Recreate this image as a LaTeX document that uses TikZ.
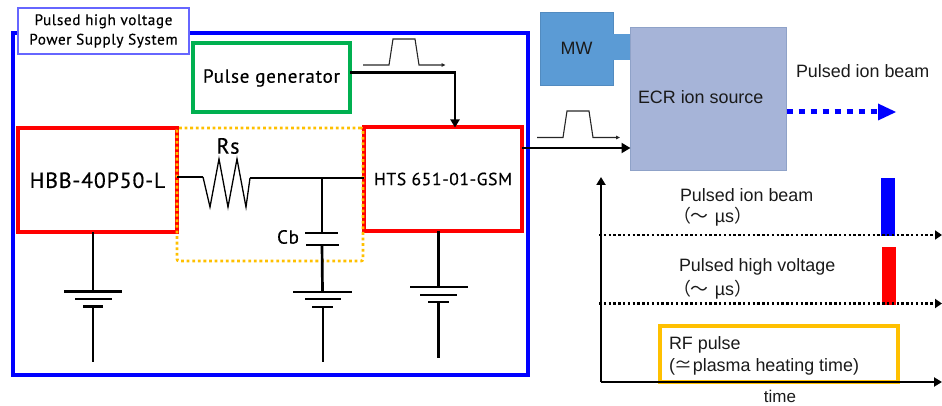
\documentclass[tikz,border=0pt]{standalone}
\usepackage{fontspec}
\setmainfont{Liberation Sans}
\newfontfamily\gothic[LetterSpace=4,FakeBold=0.5]{PT Sans}
\newfontfamily\cjkf{Noto Sans CJK JP}
\usetikzlibrary{arrows.meta}
\definecolor{psblue}{HTML}{0000FF}
\definecolor{pgreen}{HTML}{00B050}
\definecolor{pred}{HTML}{FF0000}
\definecolor{pyellow}{HTML}{FFC000}
\definecolor{mwblue}{HTML}{5B9BD5}
\definecolor{ecrfill}{HTML}{A6B4D8}
\definecolor{ecredge}{HTML}{8FA2C8}
\definecolor{inktext}{HTML}{1A1A1A}
\tikzset{
  x=1pt,y=-1pt,
  boxbase/.style={rectangle,inner sep=0pt,outer sep=0pt,align=center},
  sized/.style 2 args={minimum width=#1 pt,minimum height=#2 pt},
  redbox/.style={boxbase,draw=pred,line width=4pt},
  greenbox/.style={boxbase,draw=pgreen,line width=4pt},
  mwbox/.style={boxbase,fill=mwblue,draw=mwblue!90!black,line width=.5pt},
  ecrbox/.style={boxbase,fill=ecrfill,draw=ecredge,line width=1pt},
  gothictxt/.style={inner sep=0pt,outer sep=0pt,text=black,font=\gothic},
  sanstxt/.style={inner sep=0pt,outer sep=0pt,anchor=west,text=inktext,font=\fontsize{17.9}{20}\selectfont},
  wire/.style={draw=black,line width=2.7pt},
  thinwire/.style={draw=black,line width=1.3pt},
  plate/.style={draw=black,line width=2.6pt},
  sigarrow/.style={wire,-{Triangle[length=9pt,width=10pt]}},
  pulse/.style={draw=black!85,line width=1.1pt,-{Triangle[length=4pt,width=3.5pt]}},
  timeline/.style={draw=black,line width=2.5pt,dash pattern=on 2.4pt off 2.4pt,-{Triangle[length=7pt,width=9pt]}},
  axisline/.style={draw=black,line width=2.7pt,-{Triangle[length=8pt,width=9pt]}},
}
\begin{document}
\begin{tikzpicture}
\useasboundingbox (0,0) rectangle (942,406);
% power supply frame and label
\node[boxbase,draw=psblue,line width=4pt,sized={515}{342}] (frame) at (270.5,204) {};
\node[boxbase,draw=blue!60,fill=white,line width=1.2pt,sized={171}{46},gothictxt,font=\gothic\fontsize{15.2}{19.5}\selectfont] (label) at (103.5,31) {Pulsed high voltage\\Power Supply System};
% main boxes
\node[greenbox,sized={157}{69},gothictxt,font=\gothic\fontsize{19}{22}\selectfont] (pg) at (271.5,78) {Pulse generator};
\node[redbox,sized={159}{103.5},gothictxt,font=\gothic\fontsize{21.8}{24}\selectfont] (hbb) at (97.5,180.25) {HBB-40P50-L};
\node[redbox,sized={158}{103},gothictxt,font=\gothic\fontsize{17.5}{20}\selectfont] (hts) at (443,179) {HTS 651-01-GSM};
% yellow dotted region, over the red edges
\node[boxbase,draw=pyellow,line width=2.8pt,dash pattern=on 2.8pt off 2.8pt,rounded corners=2pt,sized={186}{133}] (rc) at (270,194.5) {};
\node[mwbox,sized={73}{73},text=inktext,font=\fontsize{17.9}{20}\selectfont] (mw) at (576.5,48.5) {MW};
\node[boxbase,fill=mwblue,sized={18}{26}] (guide) at (621.5,47) {};
\node[ecrbox,sized={156}{143}] (ecr) at (708.5,99.5) {};
\node[sanstxt] (ecrlabel) at (638,97.5) {ECR ion source};
\node[sanstxt] (beamlabel) at (796,71) {Pulsed ion beam};
% circuit coordinates
\coordinate (r0) at (hbb.east |- 0,177);
\coordinate (r1) at (203,177);
\coordinate (r2) at (250,178);
\coordinate (j) at (322,178);
\coordinate (r3) at (hts.west |- j);
\coordinate (c1) at (322,233);
\coordinate (c2) at (322,245);
\draw[wire] (r0) -- (r1);
\draw[thinwire,line join=miter] (r1) -- (210,207) -- (219,159) -- (228,207) -- (237,159) -- (246,207) -- (r2);
\draw[wire] (r2) -- (r3);
\draw[wire] (j) -- (c1);
\draw[plate] (305,233) -- (338,233);
\draw[plate] (306,245) -- (339,245);
\draw[wire] (c2) -- (322.5,292);
\node[gothictxt,font=\gothic\fontsize{22}{24}\selectfont] (rs) at (228,146) {Rs};
\node[gothictxt,font=\gothic\fontsize{19}{22}\selectfont] (cb) at (288,237) {Cb};
% batteries
\draw[plate] (293,292) -- (352,292);
\draw[plate] (305,299) -- (341,299);
\draw[plate] (312,307) -- (333,307);
\draw[wire] (323,307) -- (323,362);
\coordinate (htsb) at (438.5,287);
\draw[wire] (hts.south -| htsb) -- (htsb);
\draw[plate] (410,287) -- (468,287);
\draw[plate] (420,295) -- (457,295);
\draw[plate] (428,302) -- (449,302);
\draw[wire] (438.5,302) -- (438.5,358);
\coordinate (hbbb) at (93,291.5);
\draw[wire] (hbb.south -| hbbb) -- (hbbb);
\draw[plate] (64,291.5) -- (122,291.5);
\draw[plate] (75,299) -- (112,299);
\draw[plate] (83,306.5) -- (103,306.5);
\draw[wire] (93,306.5) -- (93,361.5);
% signals
\coordinate (pgc) at (455,72.5);
\draw[wire,-{Triangle[length=8pt,width=9pt]}] (pg.east |- pgc) -- (pgc) -- (pgc |- hts.north);
\draw[sigarrow] (hts.east |- 0,148) -- (ecr.west |- 0,148);
\draw[pulse] (363,65) -- (389,65) -- (393,39) -- (415,39) -- (419,65) -- (445.5,65);
\draw[pulse] (537,137.5) -- (563,137.5) -- (567,111) -- (589,111) -- (593,137.5) -- (620,137.5);
% beam
\coordinate (bt) at (896,112);
\draw[draw=psblue,line width=5pt,dash pattern=on 6pt off 6pt] (ecr.east |- bt) -- (877,112);
\fill[psblue] (878,103.5) -- (bt) -- (878,120.5) -- cycle;
% timing chart
\node[boxbase,draw=pyellow,line width=4pt,sized={238}{56}] (rf) at (779,354) {};
\node[boxbase,fill=psblue,sized={14}{58}] (bb) at (888,207) {};
\node[boxbase,fill=pred,sized={14}{58}] (hvb) at (889,276) {};
\coordinate (o) at (601,382);
\coordinate (yt) at (601,177);
\coordinate (xt) at (942,382);
\coordinate (l1a) at (599,235);
\coordinate (l1b) at (942,235);
\coordinate (l2a) at (599,303.5);
\coordinate (l2b) at (942,303.5);
\draw[timeline] (l1a) -- (l1b);
\draw[timeline] (l2a) -- (l2b);
\draw[axisline] (o) -- (yt);
\draw[axisline] (o) -- (xt);
\node[sanstxt] (t1) at (680,195) {Pulsed ion beam};
\node[sanstxt] (t2) at (673,217) {{\cjkf （～}\hspace{6pt}µs{\cjkf ）}};
\node[sanstxt] (t3) at (679,267) {Pulsed high voltage};
\node[sanstxt] (t4) at (673,290) {{\cjkf （～}\hspace{6pt}µs{\cjkf ）}};
\node[sanstxt] (t5) at (669,345) {RF pulse};
\node[sanstxt] (t6) at (669,367) {({\cjkf ≃}plasma heating time)};
\node[sanstxt,anchor=center,font=\fontsize{17}{19}\selectfont] (t7) at (780,396.5) {time};
\end{tikzpicture}
\end{document}
